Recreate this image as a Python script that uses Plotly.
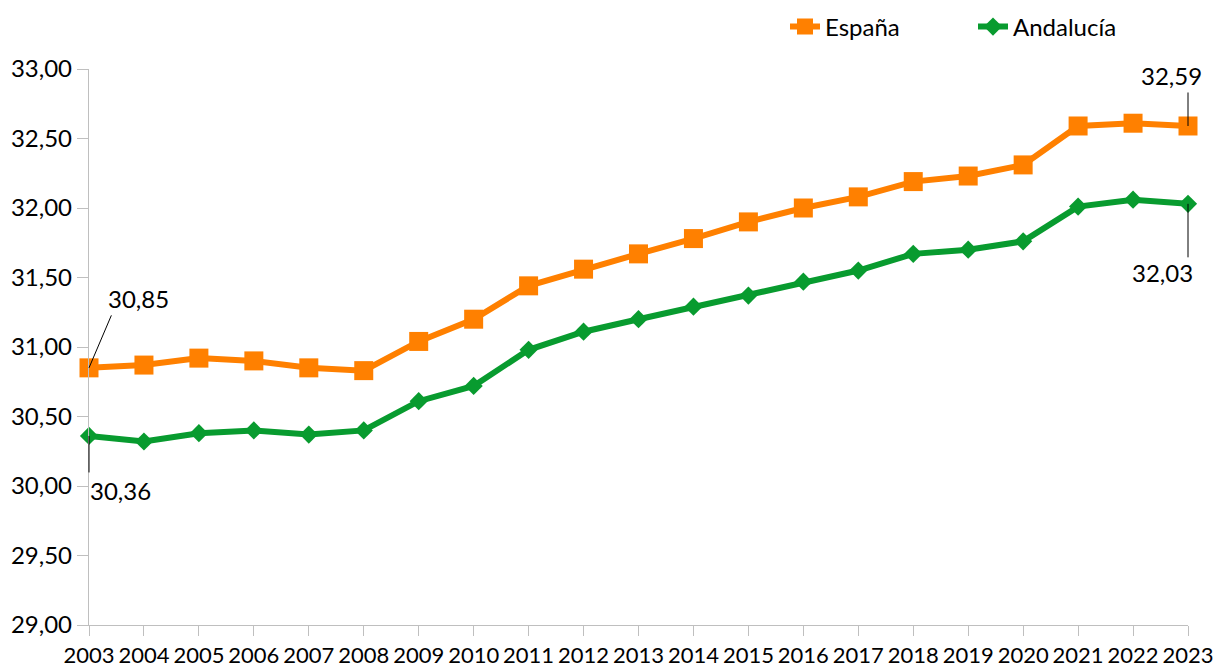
import plotly.graph_objects as go

years = list(range(2003, 2024))
espana = [30.85, 30.87, 30.92, 30.90, 30.85, 30.83, 31.04, 31.20, 31.44, 31.56, 31.67,
          31.78, 31.90, 32.00, 32.08, 32.19, 32.23, 32.31, 32.59, 32.61, 32.59]
andalucia = [30.36, 30.32, 30.38, 30.40, 30.37, 30.40, 30.61, 30.72, 30.98, 31.11, 31.20,
             31.29, 31.37, 31.47, 31.55, 31.67, 31.70, 31.76, 32.01, 32.06, 32.03]
y_ticks = [29.0, 29.5, 30.0, 30.5, 31.0, 31.5, 32.0, 32.5, 33.0]

ORANGE = "#FF8000"
GREEN = "#089B2F"
FONT = "Lato"
FS = 24

fig = go.Figure()
fig.add_trace(go.Scatter(x=years, y=espana, name="España", mode="lines+markers",
                         line=dict(color=ORANGE, width=6),
                         marker=dict(symbol="square", size=19, color=ORANGE),
                         cliponaxis=False))
fig.add_trace(go.Scatter(x=years, y=andalucia, name="Andalucía", mode="lines+markers",
                         line=dict(color=GREEN, width=6),
                         marker=dict(symbol="diamond", size=14, color=GREEN),
                         cliponaxis=False))

def fmt(v):
    return f"{v:.2f}".replace(".", ",")

# (x, y, leader ax, leader ay, label xshift, label yshift)
labels = [
    (years[0], espana[0], 23, -54, 49, 69),
    (years[0], andalucia[0], 0, 38, 31, -55),
    (years[-1], espana[-1], 0, -35, -17, 50),
    (years[-1], andalucia[-1], 0, 55, -26, -69),
]
for x, y, ax, ay, xs, ys in labels:
    fig.add_annotation(x=x, y=y, xref="x", yref="y", text="", showarrow=True,
                       arrowhead=0, arrowwidth=1, arrowcolor="black",
                       ax=ax, ay=ay, standoff=0)
    fig.add_annotation(x=x, y=y, xref="x", yref="y", text=fmt(y), showarrow=False,
                       xshift=xs, yshift=ys, font=dict(family=FONT, size=FS, color="black"))

fig.update_layout(
    width=1218, height=667,
    margin=dict(l=89, r=30, t=69, b=42, autoexpand=False),
    paper_bgcolor="white", plot_bgcolor="white",
    separators=",.",
    font=dict(family=FONT, size=FS, color="black"),
    showlegend=True,
    legend=dict(orientation="h", xref="container", yref="container",
                x=785 / 1218, xanchor="left", y=1 - 27 / 667, yanchor="middle",
                font=dict(family=FONT, size=FS, color="black"),
                entrywidth=143, bgcolor="rgba(0,0,0,0)"),
)
fig.update_xaxes(range=[2003, 2023], tickmode="array", tickvals=years,
                 ticktext=[str(y) for y in years], automargin=False, tickangle=0,
                 showgrid=False, zeroline=False, showline=True, linecolor="#BFBFBF",
                 linewidth=1.3, ticks="outside", ticklen=10, tickcolor="#BFBFBF",
                 tickfont=dict(family=FONT, size=22, color="black"))
fig.update_yaxes(range=[29, 33], tickmode="array", tickvals=y_ticks,
                 ticktext=[fmt(v) for v in y_ticks], automargin=False,
                 showgrid=False, zeroline=False, showline=True, linecolor="#BFBFBF",
                 linewidth=1.3, ticks="outside", ticklen=11, tickcolor="#BFBFBF",
                 tickfont=dict(family=FONT, size=FS, color="black"))

fig.write_html("out.html", config={"displayModeBar": False},
               post_script="document.body.style.margin='0';document.body.style.padding='0';")
